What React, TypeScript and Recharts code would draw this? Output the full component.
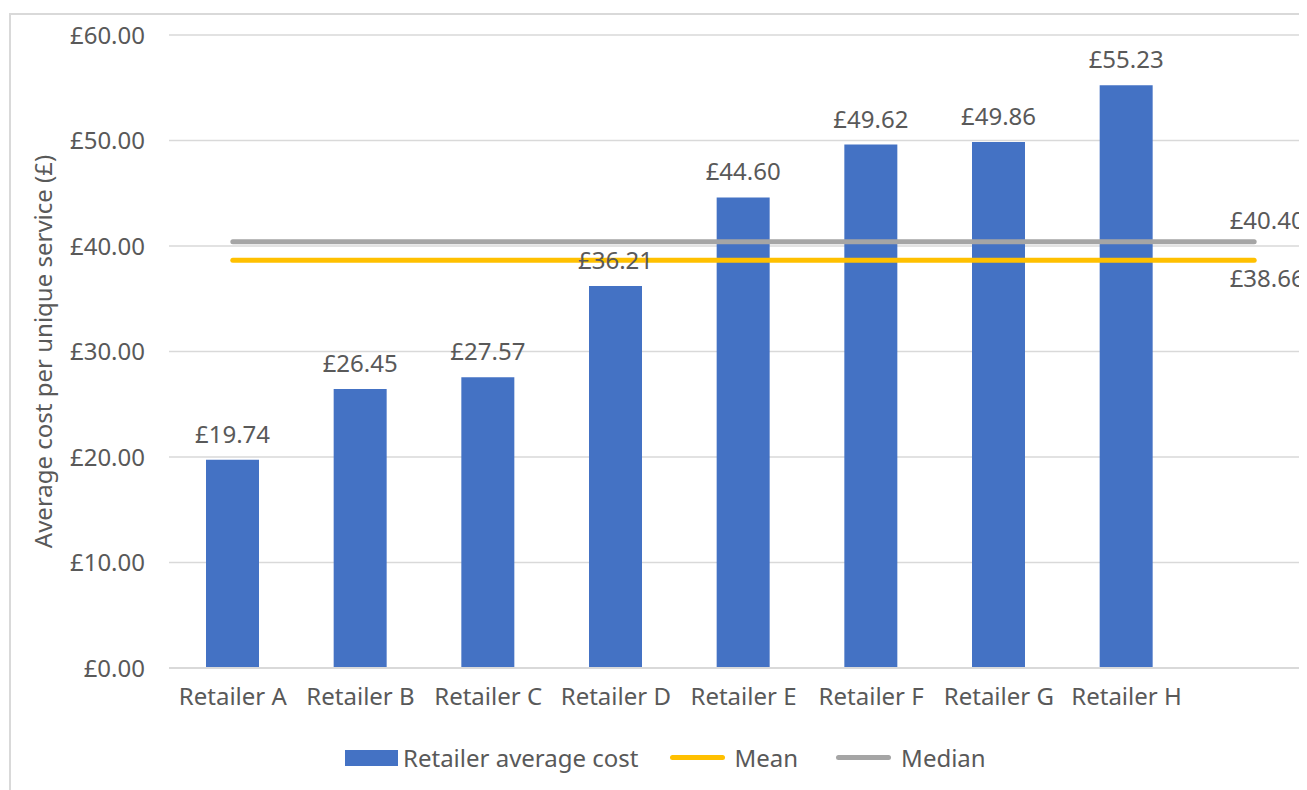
import { ComposedChart, Bar, Line, XAxis, YAxis, CartesianGrid, Legend, LabelList } from "recharts";

const retailers = [
  "Retailer A",
  "Retailer B",
  "Retailer C",
  "Retailer D",
  "Retailer E",
  "Retailer F",
  "Retailer G",
  "Retailer H",
  "",
];
const averageCost = [19.74, 26.45, 27.57, 36.21, 44.6, 49.62, 49.86, 55.23, null];
const meanCost = 38.66;
const medianCost = 40.4;
const yTicks = [0, 10, 20, 30, 40, 50, 60];

const data = retailers.map((name, i) => ({
  name,
  cost: averageCost[i],
  mean: meanCost,
  median: medianCost,
}));

const FONT = '"Noto Sans", sans-serif';
const TEXT = "#595959";
const BLUE = "#4472C4";
const GOLD = "#FFC000";
const GREY = "#A5A5A5";
const SIZE = 24;

const money = (v: number) => `£${v.toFixed(2)}`;

const endLabel = (dy: number) => (props: any) => {
  if (props.index !== retailers.length - 1) return null;
  return (
    <text x={props.x + 13} y={props.y + dy} textAnchor="middle" fill={TEXT} fontSize={SIZE} fontFamily={FONT}>
      {money(Number(props.value))}
    </text>
  );
};

const YTitle = (props: any) => {
  const vb = props.viewBox;
  return (
    <text
      transform={`translate(${vb.x + 34}, ${vb.y + vb.height / 2}) rotate(-90)`}
      textAnchor="middle"
      dominantBaseline="central"
      fill={TEXT}
      fontSize={SIZE}
      fontFamily={FONT}
    >
      Average cost per unique service (£)
    </text>
  );
};

const LegendBox = () => (
  <div style={{ display: "flex", alignItems: "center", fontFamily: FONT, fontSize: SIZE, color: TEXT }}>
    <span style={{ width: 53, height: 16, background: BLUE, display: "inline-block" }} />
    <span style={{ marginLeft: 5 }}>Retailer average cost</span>
    <span style={{ width: 55, height: 5, borderRadius: 3, background: GOLD, display: "inline-block", marginLeft: 31 }} />
    <span style={{ marginLeft: 10 }}>Mean</span>
    <span style={{ width: 55, height: 5, borderRadius: 3, background: GREY, display: "inline-block", marginLeft: 38 }} />
    <span style={{ marginLeft: 10 }}>Median</span>
  </div>
);

export default function App() {
  return (
    <div style={{ position: "relative", width: 1299, height: 782, overflow: "hidden", background: "#fff" }}>
      <div
        style={{
          position: "absolute",
          left: 1,
          top: 5,
          width: 1400,
          height: 900,
          borderLeft: "2px solid #d9d9d9",
          borderTop: "2px solid #d9d9d9",
        }}
      />
      <div style={{ position: "absolute", left: 0, top: 0 }}>
        <ComposedChart width={1330} height={782} data={data} margin={{ top: 27, right: 20, bottom: 0, left: 0 }}>
          <CartesianGrid vertical={false} stroke="#d9d9d9" strokeWidth={1.5} />
          <XAxis
            dataKey="name"
            axisLine={{ stroke: "#d9d9d9", strokeWidth: 2 }}
            tickLine={false}
            tickSize={0}
            tickMargin={20}
            height={82}
            interval={0}
            tick={{ fill: TEXT, fontSize: SIZE, fontFamily: FONT }}
          />
          <YAxis
            width={161}
            domain={[0, 60]}
            ticks={yTicks}
            axisLine={false}
            tickLine={false}
            tickSize={0}
            tickMargin={24}
            tickFormatter={money}
            tick={{ fill: TEXT, fontSize: SIZE, fontFamily: FONT }}
            label={{ content: YTitle }}
          />
          <Legend content={LegendBox} wrapperStyle={{ left: 337, top: 733, width: "auto" }} height={40} />
          <Bar dataKey="cost" fill={BLUE} barSize={53} isAnimationActive={false}>
            <LabelList
              dataKey="cost"
              position="top"
              offset={17}
              fill={TEXT}
              fontSize={SIZE}
              fontFamily={FONT}
              formatter={(v: any) => (v == null ? "" : money(Number(v)))}
            />
          </Bar>
          <Line dataKey="median" stroke={GREY} strokeWidth={5} strokeLinecap="round" dot={false} isAnimationActive={false}>
            <LabelList dataKey="median" content={endLabel(-13)} />
          </Line>
          <Line dataKey="mean" stroke={GOLD} strokeWidth={5} strokeLinecap="round" dot={false} isAnimationActive={false}>
            <LabelList dataKey="mean" content={endLabel(27)} />
          </Line>
        </ComposedChart>
      </div>
    </div>
  );
}
